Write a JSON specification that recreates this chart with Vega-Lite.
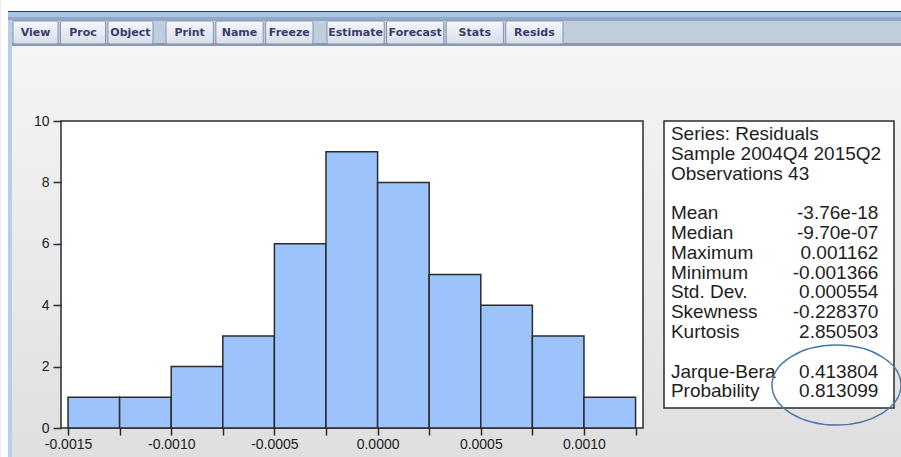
{
  "$schema": "https://vega.github.io/schema/vega-lite/v6.json",
  "background": "#ebebeb",
  "padding": 0,
  "spacing": 75,
  "bounds": "flush",
  "align": "none",
  "config": {"font": "Liberation Sans", "view": {"stroke": null}},
  "datasets": {
    "buttons": [
      {"label": "View", "group": 1}, {"label": "Proc", "group": 1}, {"label": "Object", "group": 1},
      {"label": "Print", "group": 2}, {"label": "Name", "group": 2}, {"label": "Freeze", "group": 2},
      {"label": "Estimate", "group": 3}, {"label": "Forecast", "group": 3}, {"label": "Stats", "group": 3}, {"label": "Resids", "group": 3}
    ],
    "hist": [
      {"bin_start": -0.0015, "bin_end": -0.00125, "count": 1},
      {"bin_start": -0.00125, "bin_end": -0.001, "count": 1},
      {"bin_start": -0.001, "bin_end": -0.00075, "count": 2},
      {"bin_start": -0.00075, "bin_end": -0.0005, "count": 3},
      {"bin_start": -0.0005, "bin_end": -0.00025, "count": 6},
      {"bin_start": -0.00025, "bin_end": 0, "count": 9},
      {"bin_start": 0, "bin_end": 0.00025, "count": 8},
      {"bin_start": 0.00025, "bin_end": 0.0005, "count": 5},
      {"bin_start": 0.0005, "bin_end": 0.00075, "count": 4},
      {"bin_start": 0.00075, "bin_end": 0.001, "count": 3},
      {"bin_start": 0.001, "bin_end": 0.00125, "count": 1}
    ],
    "stats": [
      {"line": 1, "name": "Series: Residuals", "value": ""},
      {"line": 2, "name": "Sample 2004Q4 2015Q2", "value": ""},
      {"line": 3, "name": "Observations 43", "value": ""},
      {"line": 5, "name": "Mean", "value": "-3.76e-18"},
      {"line": 6, "name": "Median", "value": "-9.70e-07"},
      {"line": 7, "name": "Maximum", "value": "0.001162"},
      {"line": 8, "name": "Minimum", "value": "-0.001366"},
      {"line": 9, "name": "Std. Dev.", "value": "0.000554"},
      {"line": 10, "name": "Skewness", "value": "-0.228370"},
      {"line": 11, "name": "Kurtosis", "value": "2.850503"},
      {"line": 13, "name": "Jarque-Bera", "value": "0.413804"},
      {"line": 14, "name": "Probability", "value": "0.813099"}
    ],
    "one": [{"item": "frame"}]
  },
  "vconcat": [
    {
      "width": 901,
      "height": 46,
      "resolve": {"scale": {"x": "independent"}},
      "layer": [
        {
          "data": {"name": "one"},
          "layer": [
            {
              "mark": {"type": "rect", "color": {"gradient": "linear", "x1": 0, "y1": 0, "x2": 0, "y2": 1, "stops": [{"offset": 0, "color": "#f5f5f5"}, {"offset": 1, "color": "#dfdfdf"}]}},
              "encoding": {
                "x": {"datum": 11, "type": "quantitative", "scale": {"domain": [60, 961], "nice": false, "zero": false}, "axis": null},
                "x2": {"datum": 901},
                "y": {"datum": 46, "type": "quantitative", "scale": {"domain": [0, 46], "reverse": true, "nice": false, "zero": false}, "axis": null},
                "y2": {"datum": 457}
              }
            },
            {
              "mark": {"type": "rect", "color": "white"},
              "encoding": {
                "x": {"datum": 0, "type": "quantitative", "scale": {"domain": [60, 961], "nice": false, "zero": false}, "axis": null},
                "x2": {"datum": 901},
                "y": {"datum": 0, "type": "quantitative", "scale": {"domain": [0, 46], "reverse": true, "nice": false, "zero": false}, "axis": null},
                "y2": {"datum": 11}
              }
            },
            {
              "mark": {"type": "rect", "color": {"gradient": "linear", "x1": 0, "y1": 0, "x2": 0, "y2": 1, "stops": [
                {"offset": 0, "color": "#1e3c6c"}, {"offset": 0.037, "color": "#1e3c6c"},
                {"offset": 0.04, "color": "#a9c3e6"}, {"offset": 0.16, "color": "#a9c3e6"},
                {"offset": 0.17, "color": "#93a8c4"}, {"offset": 0.28, "color": "#93a8c4"},
                {"offset": 0.29, "color": "#c0cddd"}, {"offset": 0.91, "color": "#c0cddd"},
                {"offset": 0.92, "color": "#8d99ac"}, {"offset": 1, "color": "#8d99ac"}]}},
              "encoding": {
                "x": {"datum": 7, "type": "quantitative", "scale": {"domain": [60, 961], "nice": false, "zero": false}, "axis": null},
                "x2": {"datum": 901},
                "y": {"datum": 11, "type": "quantitative", "scale": {"domain": [0, 46], "reverse": true, "nice": false, "zero": false}, "axis": null},
                "y2": {"datum": 46}
              }
            },
            {
              "mark": {"type": "rect", "color": "white"},
              "encoding": {
                "x": {"datum": 0, "type": "quantitative", "scale": {"domain": [60, 961], "nice": false, "zero": false}, "axis": null},
                "x2": {"datum": 7},
                "y": {"datum": 11, "type": "quantitative", "scale": {"domain": [0, 46], "reverse": true, "nice": false, "zero": false}, "axis": null},
                "y2": {"datum": 457}
              }
            },
            {
              "mark": {"type": "rect", "color": "#b9cde6"},
              "encoding": {
                "x": {"datum": 7, "type": "quantitative", "scale": {"domain": [60, 961], "nice": false, "zero": false}, "axis": null},
                "x2": {"datum": 11},
                "y": {"datum": 20, "type": "quantitative", "scale": {"domain": [0, 46], "reverse": true, "nice": false, "zero": false}, "axis": null},
                "y2": {"datum": 457}
              }
            }
          ]
        },
        {
          "data": {"name": "buttons"},
          "transform": [{"filter": "datum.group == 1"}],
          "encoding": {"x": {"field": "label", "type": "nominal", "scale": {"type": "band", "domain": ["View", "Proc", "Object"], "range": [-48, 92], "paddingInner": 0.05, "paddingOuter": 0}, "axis": null}},
          "layer": [
            {"mark": {"type": "bar", "cornerRadius": 2, "stroke": "#8595ad", "strokeWidth": 1, "color": {"gradient": "linear", "x1": 0, "y1": 0, "x2": 0, "y2": 1, "stops": [{"offset": 0, "color": "#f5f7fa"}, {"offset": 1, "color": "#d6dee9"}]}},
             "encoding": {"y": {"datum": 21, "type": "quantitative", "scale": {"domain": [0, 46], "reverse": true, "nice": false, "zero": false}, "axis": null}, "y2": {"datum": 44}}},
            {"mark": {"type": "text", "font": "DejaVu Sans", "fontWeight": "bold", "fontSize": 11, "color": "#3c3a6e", "baseline": "middle"},
             "encoding": {"y": {"datum": 32.5, "type": "quantitative", "scale": {"domain": [0, 46], "reverse": true, "nice": false, "zero": false}, "axis": null}, "text": {"field": "label"}}}
          ]
        },
        {
          "data": {"name": "buttons"},
          "transform": [{"filter": "datum.group == 2"}],
          "encoding": {"x": {"field": "label", "type": "nominal", "scale": {"type": "band", "domain": ["Print", "Name", "Freeze"], "range": [105, 252], "paddingInner": 0.05, "paddingOuter": 0}, "axis": null}},
          "layer": [
            {"mark": {"type": "bar", "cornerRadius": 2, "stroke": "#8595ad", "strokeWidth": 1, "color": {"gradient": "linear", "x1": 0, "y1": 0, "x2": 0, "y2": 1, "stops": [{"offset": 0, "color": "#f5f7fa"}, {"offset": 1, "color": "#d6dee9"}]}},
             "encoding": {"y": {"datum": 21, "type": "quantitative", "scale": {"domain": [0, 46], "reverse": true, "nice": false, "zero": false}, "axis": null}, "y2": {"datum": 44}}},
            {"mark": {"type": "text", "font": "DejaVu Sans", "fontWeight": "bold", "fontSize": 11, "color": "#3c3a6e", "baseline": "middle"},
             "encoding": {"y": {"datum": 32.5, "type": "quantitative", "scale": {"domain": [0, 46], "reverse": true, "nice": false, "zero": false}, "axis": null}, "text": {"field": "label"}}}
          ]
        },
        {
          "data": {"name": "buttons"},
          "transform": [{"filter": "datum.group == 3"}],
          "encoding": {"x": {"field": "label", "type": "nominal", "scale": {"type": "band", "domain": ["Estimate", "Forecast", "Stats", "Resids"], "range": [266, 502], "paddingInner": 0.04, "paddingOuter": 0}, "axis": null}},
          "layer": [
            {"mark": {"type": "bar", "cornerRadius": 2, "stroke": "#8595ad", "strokeWidth": 1, "color": {"gradient": "linear", "x1": 0, "y1": 0, "x2": 0, "y2": 1, "stops": [{"offset": 0, "color": "#f5f7fa"}, {"offset": 1, "color": "#d6dee9"}]}},
             "encoding": {"y": {"datum": 21, "type": "quantitative", "scale": {"domain": [0, 46], "reverse": true, "nice": false, "zero": false}, "axis": null}, "y2": {"datum": 44}}},
            {"mark": {"type": "text", "font": "DejaVu Sans", "fontWeight": "bold", "fontSize": 11, "color": "#3c3a6e", "baseline": "middle"},
             "encoding": {"y": {"datum": 32.5, "type": "quantitative", "scale": {"domain": [0, 46], "reverse": true, "nice": false, "zero": false}, "axis": null}, "text": {"field": "label"}}}
          ]
        }
      ]
    },
    {
      "bounds": "flush",
      "spacing": 21,
      "hconcat": [
        {
          "width": 582,
          "height": 307,
          "view": {"stroke": "#2b2b2b", "strokeWidth": 1.5, "fill": "white"},
          "data": {"name": "hist"},
          "mark": {"type": "rect", "color": "#9dc3fd", "stroke": "#2b2b2b", "strokeWidth": 1.5},
          "encoding": {
            "x": {
              "field": "bin_start", "type": "quantitative",
              "scale": {"domain": [-0.001534, 0.001286], "nice": false, "zero": false},
              "axis": {
                "title": null, "grid": false, "domain": false,
                "values": [-0.0015, -0.00125, -0.001, -0.00075, -0.0005, -0.00025, 0, 0.00025, 0.0005, 0.00075, 0.001, 0.00125],
                "format": ".4f",
                "labelExpr": "abs(round(datum.value * 10000) % 5) < 0.5 ? replace(datum.label, '\u2212', '-') : ''",
                "tickSize": 7, "tickWidth": 1.5, "tickColor": "#2b2b2b",
                "labelFont": "Liberation Sans", "labelFontSize": 14, "labelColor": "#222222",
                "labelPadding": 2, "labelOverlap": false, "labelFlush": false
              }
            },
            "x2": {"field": "bin_end"},
            "y": {
              "field": "count", "type": "quantitative",
              "scale": {"domain": [0, 10], "nice": false},
              "axis": {
                "title": null, "grid": false, "domain": false,
                "values": [0, 2, 4, 6, 8, 10],
                "tickSize": 8, "tickWidth": 1.5, "tickColor": "#2b2b2b",
                "labelFont": "Liberation Sans", "labelFontSize": 14, "labelColor": "#222222",
                "labelPadding": 4, "minExtent": 60
              }
            },
            "y2": {"datum": 0}
          }
        },
        {
          "width": 230,
          "height": 287,
          "view": {"stroke": "#2b2b2b", "strokeWidth": 1.5, "fill": "white"},
          "data": {"name": "stats"},
          "layer": [
            {
              "mark": {"type": "text", "align": "left", "baseline": "middle", "font": "Liberation Sans", "fontSize": 19, "color": "#1e1e1e"},
              "encoding": {
                "x": {"datum": 0.03, "type": "quantitative", "scale": {"domain": [0, 1], "nice": false, "zero": false}, "axis": null},
                "y": {"field": "line", "type": "quantitative", "scale": {"domain": [0.3434, 14.838], "reverse": true, "nice": false, "zero": false}, "axis": null},
                "text": {"field": "name"}
              }
            },
            {
              "mark": {"type": "text", "align": "right", "baseline": "middle", "font": "Liberation Sans", "fontSize": 19, "color": "#1e1e1e"},
              "encoding": {
                "x": {"datum": 0.932, "type": "quantitative", "scale": {"domain": [0, 1], "nice": false, "zero": false}, "axis": null},
                "y": {"field": "line", "type": "quantitative", "scale": {"domain": [0.3434, 14.838], "reverse": true, "nice": false, "zero": false}, "axis": null},
                "text": {"field": "value"}
              }
            },
            {
              "data": {"name": "one"},
              "mark": {"type": "point", "shape": "M -1 0 A 1 0.62 0 1 1 1 0 A 1 0.62 0 1 1 -1 0 Z", "size": 16641, "filled": false, "stroke": "#4a78a8", "strokeWidth": 1.5, "opacity": 1},
              "encoding": {
                "x": {"datum": 0.75, "type": "quantitative", "scale": {"domain": [0, 1], "nice": false, "zero": false}, "axis": null},
                "y": {"datum": 13.68, "type": "quantitative", "scale": {"domain": [0.3434, 14.838], "reverse": true, "nice": false, "zero": false}, "axis": null}
              }
            }
          ]
        }
      ]
    }
  ]
}
